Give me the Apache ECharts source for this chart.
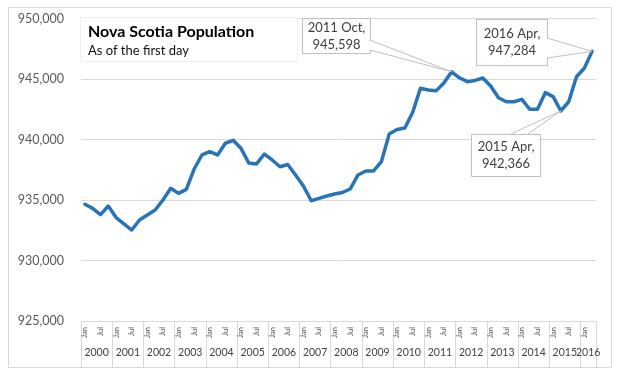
<!DOCTYPE html>
<html><head><meta charset="utf-8">
<script src="https://cdn.jsdelivr.net/npm/echarts@6/dist/echarts.min.js"></script>
<style>html,body{margin:0;padding:0;background:#fff}#c{width:620px;height:371px}</style>
</head><body><div id="c"></div>
<script>
// ---- data ----
const years = [2000,2001,2002,2003,2004,2005,2006,2007,2008,2009,2010,2011,2012,2013,2014,2015,2016];
const quarterNames = ['Jan','Apr','Jul','Oct'];
const shownMonths = ['Jan','Jul'];
const population = [
  934650, 934310, 933790, 934500,   // 2000
  933550, 933020, 932520, 933350,   // 2001
  933760, 934170, 935000, 935970,   // 2002
  935550, 935880, 937560, 938720,   // 2003
  938990, 938720, 939690, 939930,   // 2004
  939270, 938060, 937980, 938800,   // 2005
  938310, 937750, 937930, 937070,   // 2006
  936160, 934940, 935140, 935330,   // 2007
  935500, 935620, 935910, 937070,   // 2008
  937400, 937400, 938170, 940460,   // 2009
  940830, 940950, 942230, 944230,   // 2010
  944090, 944020, 944670, 945598,   // 2011
  945100, 944780, 944880, 945080,   // 2012
  944420, 943450, 943120, 943120,   // 2013
  943320, 942500, 942500, 943870,   // 2014
  943540, 942366, 943120, 945190,   // 2015
  945890, 947284                    // 2016
];
const yMin = 925000, yMax = 950000, yStep = 5000;
const titleText = 'Nova Scotia Population';
const subtitleText = 'As of the first day';
const annotations = [
  {index: 47, lines: ['2011 Oct,', '945,598']},
  {index: 65, lines: ['2016 Apr,', '947,284']},
  {index: 61, lines: ['2015 Apr,', '942,366']}
];

// ---- build categories ----
const categories = [];
const catYear = [];
const catMonth = [];
for (const y of years) {
  for (const q of quarterNames) {
    if (categories.length < population.length) {
      categories.push(y + ' ' + q);
      catYear.push(y);
      catMonth.push(q);
    }
  }
}
// year axes: half-category slots (boundaries and centres), boundaryGap false
const yearSlots = [];
for (let j = 0; j <= 2 * categories.length; j++) yearSlots.push(String(j));
const yearLabelAt = {};
const yearTickAt = {};
let lastYearSlot = -1;
years.forEach(y => {
  const idxs = catYear.map((v, i) => v === y ? i : -1).filter(i => i >= 0);
  if (!idxs.length) return;
  const s = 2 * idxs[0] + idxs.length;
  yearLabelAt[s] = y;
  yearTickAt[2 * idxs[0]] = true;
  lastYearSlot = Math.max(lastYearSlot, s);
});
yearTickAt[2 * categories.length] = true;

const FONT = 'Lato, "Open Sans", sans-serif';
const GRID = '#d9d9d9';
const yearLabelStyle = {margin: 26, fontSize: 10.5, color: '#404040', fontFamily: FONT, hideOverlap: false};
const chart = echarts.init(document.getElementById('c'));

chart.setOption({
  animation: false,
  grid: {left: 81, right: 24, top: 18.5, bottom: 50, containLabel: false},
  xAxis: [{
    type: 'category', data: categories, boundaryGap: true,
    axisLine: {show: true, lineStyle: {color: GRID, width: 1}},
    axisTick: {show: false},
    axisLabel: {
      interval: (i) => shownMonths.includes(catMonth[i]),
      formatter: (v, i) => catMonth[i],
      rotate: 90, fontSize: 7.5, margin: 6, color: '#595959', fontFamily: FONT,
      hideOverlap: false
    },
    splitLine: {show: false}
  }, {
    type: 'category', data: yearSlots, boundaryGap: false, position: 'bottom',
    axisLine: {show: false},
    axisTick: {show: true, length: 47, interval: (j) => !!yearTickAt[j],
               lineStyle: {color: GRID, width: 1}},
    axisLabel: Object.assign({
      interval: (j) => yearLabelAt[j] !== undefined && j !== lastYearSlot,
      formatter: (v, j) => String(yearLabelAt[j])
    }, yearLabelStyle)
  }, {
    type: 'category', data: yearSlots, boundaryGap: false, position: 'bottom',
    axisLine: {show: false}, axisTick: {show: false},
    axisLabel: Object.assign({
      interval: (j) => j === lastYearSlot,
      formatter: (v, j) => String(yearLabelAt[j])
    }, yearLabelStyle)
  }],
  yAxis: {
    type: 'value', min: yMin, max: yMax, interval: yStep,
    axisLine: {show: false}, axisTick: {show: false},
    axisLabel: {
      formatter: (v) => v.toLocaleString('en-US'),
      fontSize: 12.5, color: '#595959', margin: 17, fontFamily: FONT
    },
    splitLine: {lineStyle: {color: GRID, width: 1}}
  },
  series: [{
    type: 'line', data: population, xAxisIndex: 0,
    showSymbol: false, symbol: 'none',
    lineStyle: {color: '#2874b6', width: 3.5, join: 'round', cap: 'round'},
    z: 3
  }]
});

// ---- callouts & titles (placement is layout; tips come from the chart's scales) ----
const boxes = {
  47: {x: 302, y: 18, w: 68, h: 35, a: [[370, 40], [370, 50]]},
  65: {x: 476, y: 19, w: 71, h: 46, a: [[547, 38], [547, 58]]},
  61: {x: 471, y: 134, w: 69, h: 42, a: [[511, 134], [528, 134]]}
};
const graphics = [];
graphics.push({type: 'rect', shape: {x: 8.5, y: 7.5, width: 603, height: 360},
  style: {fill: 'none', stroke: '#d9d9d9', lineWidth: 1}, z: 0, silent: true});
graphics.push({type: 'rect', shape: {x: 80.5, y: 17.5, width: 217, height: 44},
  style: {fill: '#fff', stroke: '#f0f0f0', lineWidth: 1}, z: 10});
graphics.push({type: 'text', x: 88, y: 32, style: {text: titleText, fontFamily: FONT,
  fontWeight: 'bold', fontSize: 16, fill: '#000', verticalAlign: 'middle'}, z: 11});
graphics.push({type: 'text', x: 88, y: 51, style: {text: subtitleText, fontFamily: FONT,
  fontSize: 13, fill: '#111', verticalAlign: 'middle'}, z: 11});

annotations.forEach(a => {
  const b = boxes[a.index];
  const tip = chart.convertToPixel({seriesIndex: 0}, [a.index, population[a.index]]);
  graphics.push({type: 'rect', shape: {x: b.x + 0.5, y: b.y + 0.5, width: b.w, height: b.h},
    style: {fill: '#fff', stroke: '#bfbfbf', lineWidth: 1}, z: 20});
  graphics.push({type: 'polygon', shape: {points: [b.a[0], tip, b.a[1]]},
    style: {fill: '#fff', stroke: null}, z: 21});
  graphics.push({type: 'polyline', shape: {points: [b.a[0], tip]},
    style: {stroke: '#bfbfbf', lineWidth: 1, fill: null}, z: 22});
  graphics.push({type: 'polyline', shape: {points: [b.a[1], tip]},
    style: {stroke: '#bfbfbf', lineWidth: 1, fill: null}, z: 22});
  graphics.push({type: 'text', x: b.x + b.w / 2 + 0.5, y: b.y + b.h / 2 + 0.5,
    style: {text: a.lines.join('\n'), fontFamily: FONT, fontSize: 13, fill: '#404040',
      align: 'center', verticalAlign: 'middle', lineHeight: 17}, z: 23});
});
chart.setOption({graphic: graphics});
</script>
</body></html>
